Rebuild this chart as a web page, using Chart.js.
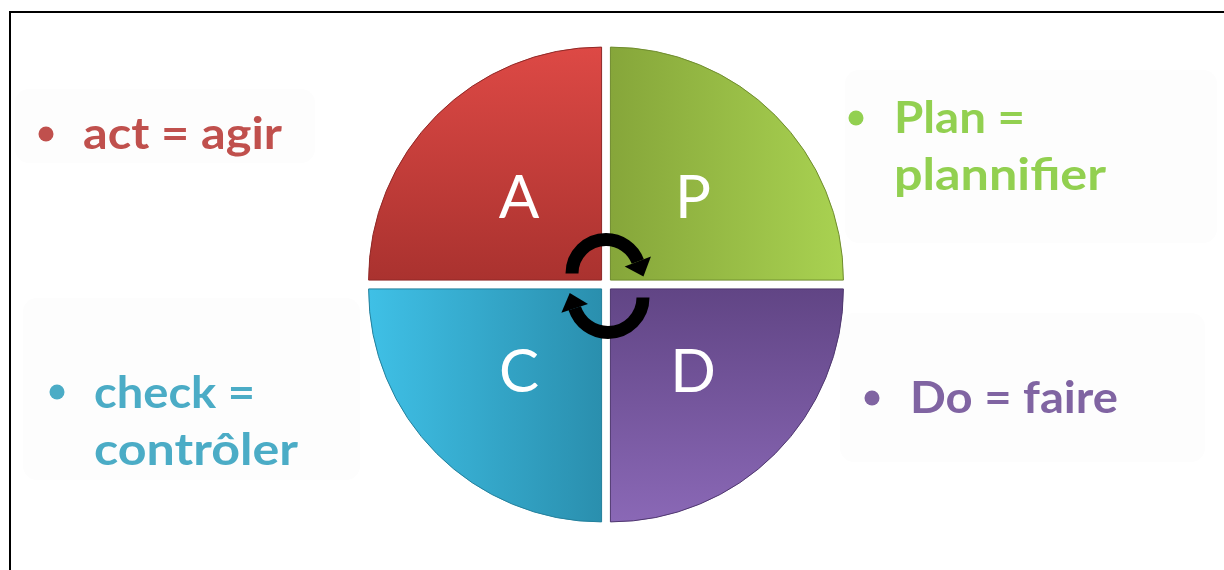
<!DOCTYPE html>
<html lang="fr">
<head>
<meta charset="utf-8">
<title>PDCA</title>
<script src="https://cdn.jsdelivr.net/npm/chart.js@4.4.0/dist/chart.umd.min.js"></script>
<style>
  html, body { margin: 0; padding: 0; background: #fff; overflow: hidden; }
  #wrap { position: relative; width: 1224px; height: 570px; }
  #frame {
    position: absolute; left: 9px; top: 11px;
    width: 1300px; height: 700px;
    border: 2px solid #000; box-sizing: border-box;
  }
  #chart { position: absolute; left: 0; top: 0; }
</style>
</head>
<body>
<div id="wrap">
  <div id="frame"></div>
  <canvas id="chart" width="1224" height="570"></canvas>
</div>
<script>
// Quadrants, clockwise from 12 o'clock
const letters = ['P', 'D', 'C', 'A'];
const shares = [25, 25, 25, 25];

// Side captions (one entry per quadrant, same order)
const captionLines = [
  ['Plan =', 'plannifier'],
  ['Do = faire'],
  ['check =', 'contrôler'],
  ['act = agir']
];
const textColors = ['#92d050', '#8064a2', '#4bacc6', '#c0504d'];

// Gradient stops for each quadrant [start, end] and direction
const fillStops = [
  ['#86a63a', '#a9d251'],   // P: left -> right
  ['#614585', '#8a68b6'],   // D: top -> bottom
  ['#3fc0e6', '#2a8fae'],   // C: left -> right
  ['#dd4945', '#aa322f']    // A: top -> bottom
];
const fillDir = ['h', 'v', 'h', 'v'];
const edgeColors = ['#6f8c2e', '#4f376f', '#24809c', '#8f2826'];

// Caption layout: bullet centre, text start, baselines, fitted width
const captionPos = [
  { bx: 856, by: 118, tx: 894, base: [133, 190], w: [131, 212], box: [845, 70, 372, 173] },
  { bx: 872, by: 398, tx: 910, base: [413], w: [208], box: [840, 313, 365, 149] },
  { bx: 57, by: 392, tx: 94, base: [408, 465], w: [161, 204], box: [23, 298, 337, 182] },
  { bx: 46, by: 134, tx: 83, base: [149], w: [199], box: [15, 89, 300, 74] }
];

const RADIUS = 233;

function quadrantFill(context) {
  const chart = context.chart;
  const area = chart.chartArea;
  if (!area) return fillStops[context.dataIndex][0];
  const i = context.dataIndex;
  const cx = (area.left + area.right) / 2;
  const cy = (area.top + area.bottom) / 2;
  let g;
  if (fillDir[i] === 'h') {
    const x0 = i === 0 ? cx : cx - RADIUS;
    g = chart.ctx.createLinearGradient(x0, 0, x0 + RADIUS, 0);
  } else {
    const y0 = i === 1 ? cy : cy - RADIUS;
    g = chart.ctx.createLinearGradient(0, y0, 0, y0 + RADIUS);
  }
  g.addColorStop(0, fillStops[i][0]);
  g.addColorStop(1, fillStops[i][1]);
  return g;
}

// faint caption panels, drawn behind everything
const panelPlugin = {
  id: 'panels',
  beforeDraw(chart) {
    const ctx = chart.ctx;
    ctx.save();
    ctx.fillStyle = '#fdfdfd';
    captionPos.forEach(p => {
      const [x, y, w, h] = p.box;
      ctx.beginPath();
      ctx.roundRect(x, y, w, h, 14);
      ctx.fill();
    });
    ctx.restore();
  }
};

// letters in the quadrants, cycle arrows, side captions
const decorPlugin = {
  id: 'decor',
  afterDatasetsDraw(chart) {
    const ctx = chart.ctx;
    const arcs = chart.getDatasetMeta(0).data;
    ctx.save();

    // quadrant letters
    ctx.fillStyle = '#ffffff';
    ctx.font = '400 60px Lato, "Open Sans", sans-serif';
    ctx.textAlign = 'center';
    ctx.textBaseline = 'middle';
    arcs.forEach((arc, i) => {
      const mid = (arc.startAngle + arc.endAngle) / 2;
      const d = arc.outerRadius * 0.528;
      ctx.fillText(letters[i], arc.x + Math.cos(mid) * d, arc.y + Math.sin(mid) * d + 1);
    });

    // cycle arrows
    const cx = arcs[0].x, cy = arcs[0].y;
    drawCurvedArrow(ctx, cx, cy - 11, 34, Math.PI, -0.36);
    drawCurvedArrow(ctx, cx + 2, cy + 13, 35, 0, Math.PI * 0.9);

    // captions
    ctx.textAlign = 'left';
    ctx.textBaseline = 'alphabetic';
    ctx.font = '700 43px Lato, "Open Sans", sans-serif';
    captionLines.forEach((lines, i) => {
      const p = captionPos[i];
      ctx.fillStyle = textColors[i];
      ctx.beginPath();
      ctx.arc(p.bx, p.by, 7.5, 0, Math.PI * 2);
      ctx.fill();
      lines.forEach((txt, j) => {
        const mw = ctx.measureText(txt).width;
        ctx.save();
        ctx.translate(p.tx, p.base[j]);
        ctx.scale(p.w[j] / mw, 1);
        ctx.fillText(txt, 0, 0);
        ctx.restore();
      });
    });
    ctx.restore();
  }
};

function drawCurvedArrow(ctx, x, y, r, a0, a1) {
  // clockwise arc from a0 to a1, arrowhead at a1
  ctx.save();
  ctx.strokeStyle = '#000';
  ctx.fillStyle = '#000';
  ctx.lineWidth = 13;
  ctx.lineCap = 'butt';
  ctx.beginPath();
  ctx.arc(x, y, r, a0, a1, false);
  ctx.stroke();
  const ex = x + Math.cos(a1) * r;
  const ey = y + Math.sin(a1) * r;
  const dx = -Math.sin(a1), dy = Math.cos(a1);
  const px = -dy, py = dx;
  ctx.beginPath();
  ctx.moveTo(ex + dx * 16, ey + dy * 16);
  ctx.lineTo(ex + px * 14, ey + py * 14);
  ctx.lineTo(ex - px * 14, ey - py * 14);
  ctx.closePath();
  ctx.fill();
  ctx.restore();
}

new Chart(document.getElementById('chart'), {
  type: 'pie',
  data: {
    labels: letters,
    datasets: [{
      data: shares,
      backgroundColor: quadrantFill,
      borderColor: edgeColors,
      borderWidth: 1,
      offset: 25,
      hoverOffset: 25
    }]
  },
  options: {
    responsive: false,
    animation: false,
    radius: RADIUS,
    rotation: 0,
    layout: { padding: { left: 0, right: 12, top: 0, bottom: 1 } },
    plugins: {
      legend: { display: false },
      tooltip: { enabled: false }
    },
    events: []
  },
  plugins: [panelPlugin, decorPlugin]
});
</script>
</body>
</html>
